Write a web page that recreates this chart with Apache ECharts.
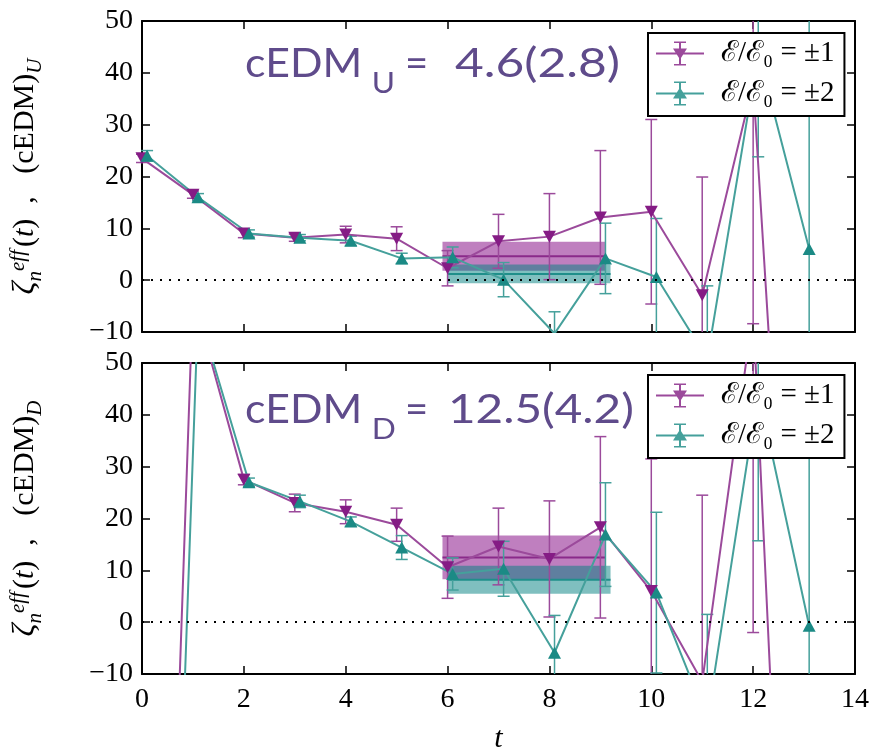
<!DOCTYPE html>
<html><head><meta charset="utf-8">
<script src="https://cdn.jsdelivr.net/npm/echarts@6/dist/echarts.min.js"></script>
<style>html,body{margin:0;padding:0;background:#fff}#c{width:889px;height:751px}</style>
</head><body><div id="c"></div>
<script>
// ---------- data ----------
const tPurple = [0, 1, 2, 3, 4, 5, 6, 7, 8, 9, 10, 11, 12, 13];
const tTeal   = [0.1, 1.1, 2.1, 3.1, 4.1, 5.1, 6.1, 7.1, 8.1, 9.1, 10.1, 11.1, 12.1, 13.1];

// top panel (cEDM)_U
const purpleU    = [23.5, 16.5, 9.0, 8.2, 8.8, 8.0, 2.3, 7.5, 8.4, 12.1, 13.2, -2.9, 38, -120];
const purpleUErr = [0.8, 0.7, 0.8, 0.7, 1.6, 2.3, 3.4, 5.2, 8.3, 12.9, 17.8, 22.8, 46.4, 50];
const tealU      = [24.0, 16.0, 9.0, 8.2, 7.6, 4.2, 4.4, 0.1, -10.3, 4.2, 0.6, -15.2, 44, 6.0];
const tealUErr   = [1.0, 0.7, 0.7, 0.6, 0.9, 1.0, 2.0, 3.3, 4.2, 6.8, 11.3, 14.1, 20.2, 45];

// bottom panel (cEDM)_D
const purpleD    = [-220, 63, 27.5, 23.0, 21.3, 18.8, 10.6, 14.6, 12.2, 18.3, 6.0, -11.5, 60, -150];
const purpleDErr = [5, 5, 1.0, 1.7, 2.3, 3.2, 6.0, 7.4, 11.2, 17.5, 25.5, 36, 62, 60];
const tealD      = [-215, 60, 27.0, 23.3, 19.4, 14.4, 9.3, 10.3, -5.9, 16.9, 5.7, -18.8, 44.7, -0.7];
const tealDErr   = [5, 5, 0.8, 1.2, 0.9, 2.3, 3.1, 5.3, 7.2, 10.0, 15.5, 20.3, 29, 45];

// fit bands: [tStart, tEnd, centre, error]
const fitPurpleU = [5.9, 9.1, 4.6, 2.8];
const fitTealU   = [6.0, 9.2, 1.2, 1.8];
const fitPurpleD = [5.9, 9.1, 12.5, 4.2];
const fitTealD   = [6.0, 9.2, 8.2, 2.7];

const xRange = [0, 14, 2];
const yRange = [-10, 50, 10];
const seriesNames = ['\u2130/\u2130\u2080 = \u00b11', '\u2130/\u2130\u2080 = \u00b12'];
const annotU = ['cEDM', 'U', '=', '4.6(2.8)'];
const annotD = ['cEDM', 'D', '=', '12.5(4.2)'];

// ---------- style ----------
const PURPLE = '#851c85', PURPLE_LINE = '#9b4a9b';
const TEAL = '#1b8a85', TEAL_LINE = '#45a09b';
const SERIF = "'Liberation Serif', 'DejaVu Serif', serif";
const ANN = '#5f4b8b';

const zip = (xs, ys) => xs.map((x, i) => [x, ys[i]]);
const zip3 = (xs, ys, es) => xs.map((x, i) => [x, ys[i], es[i]]);

function errRender(color) {
  return function (params, api) {
    const t = api.value(0), v = api.value(1), e = api.value(2);
    const cs = params.coordSys;
    const x = api.coord([t, v])[0];
    const top = api.coord([t, v + e])[1], bot = api.coord([t, v - e])[1];
    const yMin = cs.y, yMax = cs.y + cs.height;
    const ch = [];
    const st = { stroke: color, lineWidth: 1.5 };
    const ct = Math.max(top, yMin), cb = Math.min(bot, yMax);
    if (ct < cb) ch.push({ type: 'line', shape: { x1: x, y1: ct, x2: x, y2: cb }, style: st });
    if (top >= yMin && top <= yMax) ch.push({ type: 'line', shape: { x1: x - 6, y1: top, x2: x + 6, y2: top }, style: st });
    if (bot >= yMin && bot <= yMax) ch.push({ type: 'line', shape: { x1: x - 6, y1: bot, x2: x + 6, y2: bot }, style: st });
    return { type: 'group', children: ch };
  };
}
function bandRender(fill, stroke) {
  return function (params, api) {
    const t0 = api.value(0), t1 = api.value(1), c = api.value(2), e = api.value(3);
    const p0 = api.coord([t0, c + e]), p1 = api.coord([t1, c - e]);
    const q0 = api.coord([t0, c]), q1 = api.coord([t1, c]);
    return { type: 'group', children: [
      { type: 'rect', shape: { x: p0[0], y: p0[1], width: p1[0] - p0[0], height: p1[1] - p0[1] }, style: { fill: fill } },
      { type: 'line', shape: { x1: q0[0], y1: q0[1], x2: q1[0], y2: q1[1] }, style: { stroke: stroke, lineWidth: 2 } }
    ]};
  };
}

const tickStyle = { inside: true, length: 8, lineStyle: { color: '#000', width: 1.5 } };
const axLine = { show: true, onZero: false, lineStyle: { color: '#000', width: 2 } };
const yFmt = v => (v < 0 ? '\u2212' + Math.abs(v) : '' + v);

function xAx(grid, pos, labels, name) {
  return {
    type: 'value', gridIndex: grid, position: pos, min: xRange[0], max: xRange[1], interval: xRange[2],
    axisLine: axLine, axisTick: tickStyle, splitLine: { show: false },
    axisLabel: { show: labels, fontFamily: SERIF, fontSize: 28, color: '#000', margin: 12 },
    name: name || '', nameLocation: 'middle', nameGap: 50,
    nameTextStyle: { fontFamily: SERIF, fontStyle: 'italic', fontSize: 30, color: '#000' }
  };
}
function yAx(grid, pos, labels, sub) {
  const o = {
    type: 'value', gridIndex: grid, position: pos, min: yRange[0], max: yRange[1], interval: yRange[2],
    axisLine: axLine, axisTick: tickStyle, splitLine: { show: false },
    axisLabel: { show: labels, fontFamily: SERIF, fontSize: 28, color: '#000', margin: 9, formatter: yFmt }
  };
  if (sub) {
    const LH = 40;
    o.name = '{z|\u03b6}{s|n}{p|eff}{r|(}{i|t}{r|)  ,   (cEDM)}{s|' + sub + '}';
    o.nameLocation = 'middle';
    o.nameRotate = 90;
    o.nameGap = 94;
    o.nameTextStyle = {
      fontFamily: SERIF, color: '#000',
      rich: {
        z: { fontFamily: SERIF, fontStyle: 'italic', fontSize: 32, color: '#000', lineHeight: LH, verticalAlign: 'top', padding: [2, 0, 0, 0] },
        s: { fontFamily: SERIF, fontStyle: 'italic', fontSize: 21, color: '#000', lineHeight: LH, verticalAlign: 'top', padding: [17, 0, 0, 0] },
        p: { fontFamily: SERIF, fontStyle: 'italic', fontSize: 21, color: '#000', lineHeight: LH, verticalAlign: 'top', padding: [0, 3, 0, 0] },
        r: { fontFamily: SERIF, fontSize: 30, color: '#000', lineHeight: LH, verticalAlign: 'top', padding: [2, 0, 0, 0] },
        i: { fontFamily: SERIF, fontStyle: 'italic', fontSize: 30, color: '#000', lineHeight: LH, verticalAlign: 'top', padding: [2, 0, 0, 0] }
      }
    };
  }
  return o;
}

function panelSeries(g, pV, pE, tV, tE, fP, fT) {
  const xi = g * 2, yi = g * 2;
  return [
    { type: 'custom', name: 'bandP' + g, xAxisIndex: xi, yAxisIndex: yi, z: 1, silent: true,
      renderItem: bandRender('rgba(128,0,128,0.5)', '#8a2a8a'), data: [fP] },
    { type: 'custom', name: 'bandT' + g, xAxisIndex: xi, yAxisIndex: yi, z: 1, silent: true,
      renderItem: bandRender('rgba(0,128,128,0.5)', '#1f8f8a'), data: [fT] },
    { type: 'line', name: seriesNames[0], xAxisIndex: xi, yAxisIndex: yi, z: 3,
      data: zip(tPurple, pV), symbol: 'triangle', symbolRotate: 180, symbolSize: [13, 12],
      itemStyle: { color: PURPLE }, lineStyle: { color: PURPLE_LINE, width: 2 },
      animation: false,
      markLine: { silent: true, symbol: 'none', label: { show: false },
        lineStyle: { color: '#000', type: [2, 7], width: 2 }, data: [{ yAxis: 0 }] } },
    { type: 'line', name: seriesNames[1], xAxisIndex: xi, yAxisIndex: yi, z: 3,
      data: zip(tTeal, tV), symbol: 'triangle', symbolSize: [13, 12],
      itemStyle: { color: TEAL }, lineStyle: { color: TEAL_LINE, width: 2 }, animation: false },
    { type: 'custom', name: 'errP' + g, xAxisIndex: xi, yAxisIndex: yi, z: 2, silent: true,
      renderItem: errRender(PURPLE_LINE), data: zip3(tPurple, pV, pE) },
    { type: 'custom', name: 'errT' + g, xAxisIndex: xi, yAxisIndex: yi, z: 2, silent: true,
      renderItem: errRender(TEAL_LINE), data: zip3(tTeal, tV, tE) }
  ];
}

const iconP = 'path://M0 11H48V13H0Z M23 0H25V24H23Z M18 0H30V1.6H18Z M18 22.4H30V24H18Z M17 7H31L24 18Z';
const iconT = 'path://M0 11H48V13H0Z M23 0H25V24H23Z M18 0H30V1.6H18Z M18 22.4H30V24H18Z M17 17L24 6L31 17Z';

function legend(top) {
  return {
    orient: 'vertical', left: 648, top: top, padding: [6, 10, 8, 8], itemGap: 11,
    itemWidth: 48, itemHeight: 24, backgroundColor: '#fff', borderColor: '#000', borderWidth: 2, borderRadius: 0,
    selectedMode: false,
    textStyle: { fontFamily: SERIF, fontSize: 29, lineHeight: 24, color: '#000', padding: [0, 0, 0, 12] },
    data: [
      { name: seriesNames[0], icon: iconP, itemStyle: { color: PURPLE_LINE } },
      { name: seriesNames[1], icon: iconT, itemStyle: { color: TEAL_LINE } }
    ]
  };
}

function annot(parts, y, xNum, numScale) {
  const S = 40;
  const base = { fontFamily: 'Lato', fontSize: S, fill: ANN, lineHeight: S + 8, verticalAlign: 'top' };
  return [
    { type: 'text', x: 245, y: y, z: 10, silent: true, scaleX: 1.07,
      style: {
        text: '{m|' + parts[0] + '}{s|' + parts[1] + '}',
        rich: {
          m: base,
          s: Object.assign({}, base, { fontSize: S * 0.74, padding: [S * 0.62, 0, 0, 9] })
        }
      } },
    { type: 'text', x: 405, y: y, z: 10, silent: true,
      style: { text: '{m|' + parts[2] + '}', rich: { m: base } } },
    { type: 'text', x: xNum, y: y, z: 10, silent: true, scaleX: numScale,
      style: { text: '{m|' + parts[3] + '}', rich: { m: base } } }
  ];
}

const chart = echarts.init(document.getElementById('c'), null, { renderer: 'canvas' });
chart.setOption({
  backgroundColor: '#fff',
  animation: false,
  grid: [
    { left: 142, top: 21, width: 713, height: 311, containLabel: false, outerBoundsMode: 'none' },
    { left: 142, top: 363, width: 713, height: 311, containLabel: false, outerBoundsMode: 'none' }
  ],
  xAxis: [
    xAx(0, 'bottom', false), xAx(0, 'top', false),
    xAx(1, 'bottom', true, 't'), xAx(1, 'top', false)
  ],
  yAxis: [
    yAx(0, 'left', true, 'U'), yAx(0, 'right', false),
    yAx(1, 'left', true, 'D'), yAx(1, 'right', false)
  ],
  legend: [legend(33), legend(375)],
  series: [].concat(
    panelSeries(0, purpleU, purpleUErr, tealU, tealUErr, fitPurpleU, fitTealU),
    panelSeries(1, purpleD, purpleDErr, tealD, tealDErr, fitPurpleD, fitTealD)
  ),
  graphic: [].concat(annot(annotU, 44, 455, 1.24), annot(annotD, 390, 448, 1.19))
});
</script></body></html>
